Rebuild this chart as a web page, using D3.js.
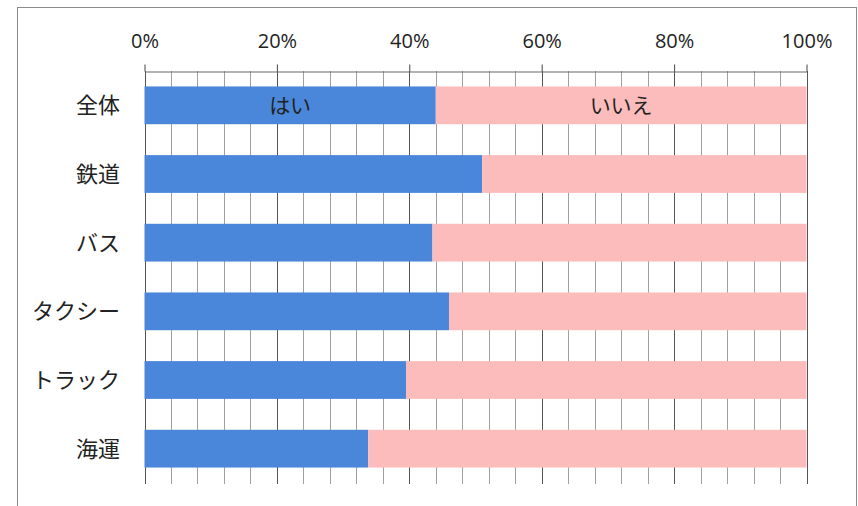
<!DOCTYPE html>
<html><head><meta charset="utf-8">
<script src="https://cdn.jsdelivr.net/npm/d3@7"></script>
<style>body{margin:0;background:#fff}svg{display:block}</style>
</head><body>
<svg id="c" width="858" height="506"></svg>
<script>
const categories = ["全体","鉄道","バス","タクシー","トラック","海運"];
const yesValues = [44.0, 51.0, 43.5, 46.0, 39.5, 33.8];
const noValues = yesValues.map(v => 100 - v);
const seriesNames = ["はい","いいえ"];
const tickValues = [0,20,40,60,80,100];
const minorTicks = d3.range(0, 101, 4);
const colors = ["#4a86d9","#fbbcbb"];

const svg = d3.select("#c");
const x = d3.scaleLinear().domain([0,100]).range([144.5, 806.5]);
const y = d3.scaleBand().domain(categories).range([71, 483]).paddingInner(0.45).paddingOuter(0.225);

// frame
svg.append("rect").attr("x",17.5).attr("y",7.5).attr("width",839).attr("height",520)
  .attr("fill","none").attr("stroke","#8a8a8a").attr("stroke-width",1);

// gridlines
svg.append("g").selectAll("line").data(minorTicks).join("line")
  .attr("x1",d=>Math.round(x(d))+0.5).attr("x2",d=>Math.round(x(d))+0.5)
  .attr("y1",71).attr("y2",484)
  .attr("stroke",d=>d%20===0?"#555":"#a0a0a0").attr("stroke-width",1);

// top axis
const axis = d3.axisTop(x).tickValues(tickValues).tickFormat(d=>d+"%").tickSize(7).tickSizeOuter(0);
const ax = svg.append("g").attr("transform","translate(0,71.5)").call(axis);
ax.select(".domain").attr("stroke","#666");
ax.selectAll(".tick line").attr("stroke","#444");
ax.selectAll(".tick text").attr("font-family","'Open Sans', 'Noto Sans', sans-serif")
  .attr("font-size",20).attr("fill","#222").attr("y",-24).attr("dy",0);

// bars
const stack = categories.map((c,i)=>({c, segs:[{s:0,e:yesValues[i],k:0},{s:yesValues[i],e:yesValues[i]+noValues[i],k:1}]}));
const g = svg.append("g");
stack.forEach(row=>{
  g.selectAll(null).data(row.segs).join("rect")
    .attr("x",d=>x(d.s)).attr("width",d=>x(d.e)-x(d.s))
    .attr("y",y(row.c)).attr("height",y.bandwidth())
    .attr("fill",d=>colors[d.k]);
});

// series labels on first bar
const first = stack[0];
g.selectAll(null).data(first.segs).join("text")
  .attr("x",d=>(x(d.s)+x(d.e))/2).attr("y",y(first.c)+y.bandwidth()/2)
  .attr("dy","0.36em").attr("text-anchor","middle")
  .attr("font-family","'Noto Sans CJK JP', sans-serif").attr("font-size",21).attr("fill","#222")
  .text(d=>seriesNames[d.k]);

// category labels
svg.append("g").selectAll("text").data(categories).join("text")
  .attr("x",120).attr("y",d=>y(d)+y.bandwidth()/2).attr("dy","0.36em")
  .attr("text-anchor","end")
  .attr("font-family","'Noto Sans CJK JP', sans-serif").attr("font-size",22).attr("fill","#222")
  .text(d=>d);
</script>
</body></html>
